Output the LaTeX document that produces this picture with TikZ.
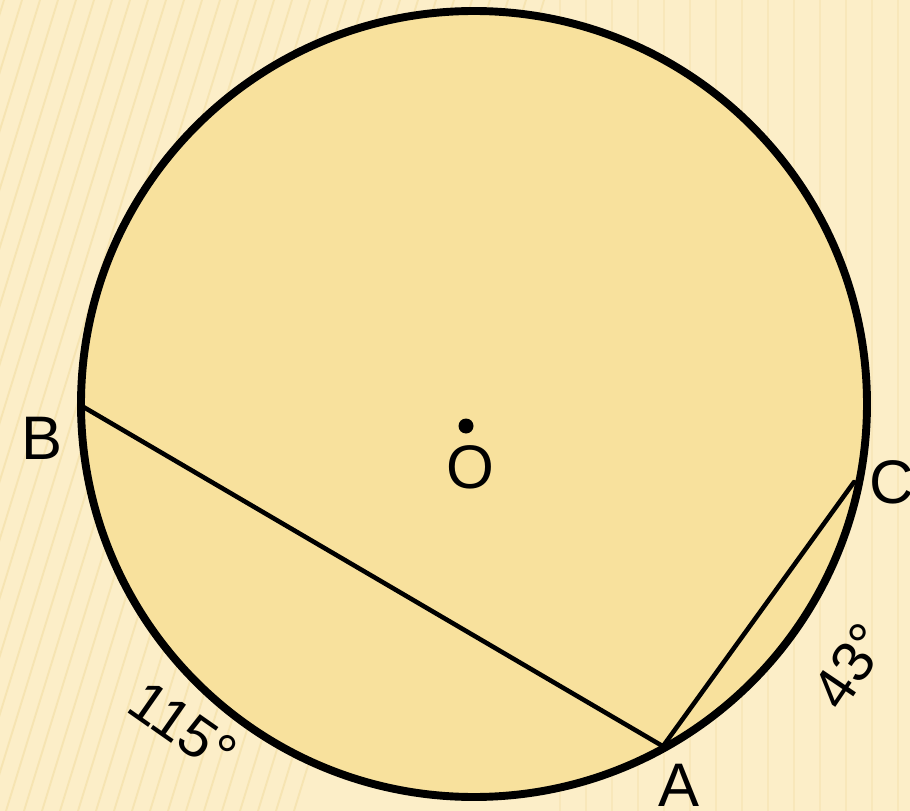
\documentclass[tikz,border=0pt]{standalone}
\usepackage{fontspec}
\setmainfont{Liberation Sans}
\usetikzlibrary{positioning,calc}
\definecolor{bgcream}{HTML}{FCEEC8}
\definecolor{stripe}{HTML}{F4E0AA}
\definecolor{disc}{HTML}{F8E19D}

\begin{document}
\begin{tikzpicture}[x=0.02cm, y=-0.02cm, line cap=round, line join=round,
  ptlabel/.style={font=\fontsize{35}{42}\selectfont, inner sep=0pt},
  arclabel/.style={font=\fontsize{33}{40}\selectfont, inner sep=0pt},
  chord/.style={line width=2.6pt}]
  % Background
  \fill[bgcream] (0,0) rectangle (910,811);
  \useasboundingbox (0,0) rectangle (910,811);
  \foreach \x in {-300,-282,...,300}
    \draw[stripe, line width=1.1pt, opacity=0.7] (\x,811) -- (\x+250,0);
  \foreach \x in {560,586,...,910}
    \draw[stripe, line width=1.1pt, opacity=0.45] (\x,811) -- (\x,0);
  % Circle
  \coordinate (O) at (474,404);
  \filldraw[fill=disc, draw=black, line width=4.5pt] (O) circle[radius=393];
  % Points on the circle
  \coordinate (B) at ($(O)+(179.6:391)$);
  \coordinate (A) at ($(O)+(61.1:391)$);
  \coordinate (C) at ($(O)+(11.6:388)$);
  % Chords
  \draw[chord] (B) -- (A) -- (C);
  % Centre
  \fill (466,426) circle[radius=7.5];
  \node[ptlabel] (labO) at (470,467) {O};
  % Labels
  \node[ptlabel] (labB) at (42,438) {B};
  \node[ptlabel] (labA) at (679,785) {A};
  \node[ptlabel] (labC) at (892,482) {C};
  % Arc measures
  \node[arclabel, rotate=-35] (arcBA) at (183,727) {115°};
  \node[arclabel, rotate=56] (arcAC) at (850,666) {43°};
\end{tikzpicture}
\end{document}
